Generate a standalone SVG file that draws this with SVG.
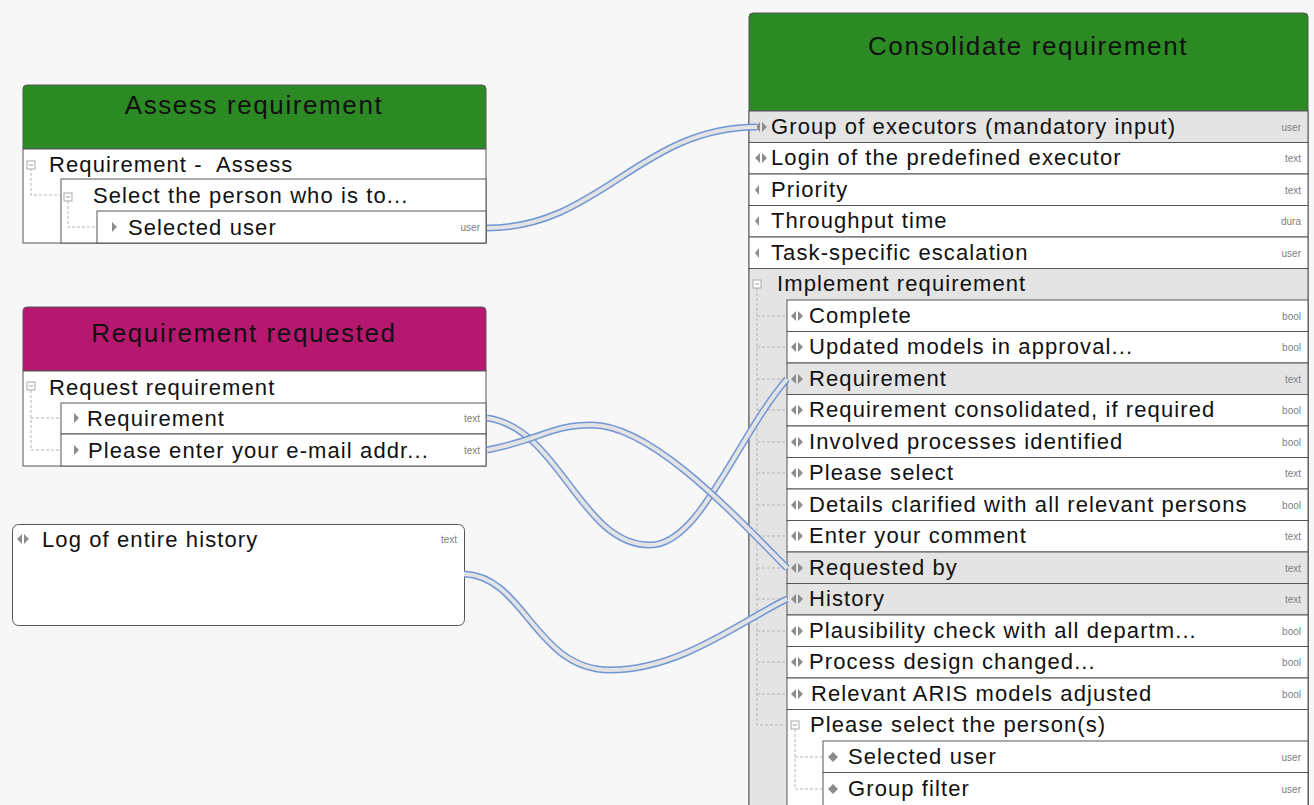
<svg xmlns="http://www.w3.org/2000/svg" xmlns:xlink="http://www.w3.org/1999/xlink" width="1314" height="805" viewBox="0 0 1314 805">
<style>
.bg{fill:#f7f7f7}
.row{fill:#ffffff;stroke:#555;stroke-width:1}
.hl{fill:#e4e4e4;stroke:#555;stroke-width:1}
.strip{fill:#e4e4e4;stroke:#555;stroke-width:1}
.t{font-family:"Liberation Sans",Arial,sans-serif;font-size:22px;letter-spacing:1.1px;fill:#111;white-space:pre}
.h{font-family:"Liberation Sans",Arial,sans-serif;font-size:26px;letter-spacing:1.6px;fill:#111;text-anchor:middle}
.ty{font-family:"Liberation Sans",Arial,sans-serif;font-size:10px;fill:#808080;text-anchor:end}
.tree{fill:none;stroke:#b5b5b5;stroke-width:1;stroke-dasharray:3 2}
.cb{fill:#fff;stroke:#aaa;stroke-width:1}
.cbm{stroke:#999;stroke-width:1}
.ic{fill:#8c8c8c}
.cw{fill:none;stroke:#7096d6;stroke-width:7}
.ci{fill:none;stroke:#e3e3e3;stroke-width:4}
</style>
<defs>
<g id="lr"><polygon points="0,0 5,-5 5,5"/><polygon points="7,-5 12,0 7,5"/></g>
<g id="l"><polygon points="0,0 4,-5 4,5"/></g>
<g id="r"><polygon points="0,-5 5,0 0,5"/></g>
<g id="dm"><polygon points="0,0 5,-5 10,0 5,5"/></g>
<g id="cb"><rect class="cb" x="-4" y="-4" width="8" height="8"/><line class="cbm" x1="-2" y1="0" x2="2" y2="0"/></g>
<path id="c1" d="M487,228 C600,228 640,127 757,127"/>
<path id="c2" d="M487,418 C560,428 580,545 650,545 C700,545 735,440 787,379"/>
<path id="c3" d="M487,450 C540,440 550,425 592,425 C650,425 730,510 787,568"/>
<path id="c4" d="M464,574 C525,576 535,670 610,670 C680,670 740,622 787,599"/>
</defs>
<rect class="bg" x="0" y="0" width="1314" height="805"/>

<g id="node-assess">
<path d="M23,149 V89 Q23,85 27,85 H482 Q486,85 486,89 V149 Z" fill="#2b8a24" stroke="#555"/>
<text class="h" x="254" y="114">Assess requirement</text>
<rect class="row" x="23" y="149" width="463" height="94"/>
<rect class="row" x="61" y="179" width="425" height="64"/>
<rect class="row" x="97" y="211" width="389" height="32"/>
<path class="tree" d="M31,168 V195 H61 M68,201 V227 H97"/>
<use href="#cb" x="31" y="165"/>
<use href="#cb" x="68" y="197"/>
<use href="#r" class="ic" x="112" y="227"/>
<text class="t" x="49" y="172">Requirement -  Assess</text>
<text class="t" x="93" y="203">Select the person who is to...</text>
<text class="t" x="128" y="235">Selected user</text>
<text class="ty" x="480" y="231">user</text>
</g>

<g id="node-requested">
<path d="M23,371 V311 Q23,307 27,307 H482 Q486,307 486,311 V371 Z" fill="#b5186e" stroke="#555"/>
<text class="h" x="244" y="342">Requirement requested</text>
<rect class="row" x="23" y="371" width="463" height="95"/>
<rect class="row" x="61" y="403" width="425" height="31"/>
<rect class="row" x="61" y="434" width="425" height="32"/>
<path class="tree" d="M31,390 V450 H61 M31,418 H61"/>
<use href="#cb" x="31" y="386"/>
<use href="#r" class="ic" x="74" y="418"/>
<use href="#r" class="ic" x="74" y="450"/>
<text class="t" x="49" y="395">Request requirement</text>
<text class="t" x="87" y="426">Requirement</text>
<text class="t" x="88" y="458">Please enter your e-mail addr...</text>
<text class="ty" x="480" y="422">text</text>
<text class="ty" x="480" y="454">text</text>
</g>

<g id="node-log">
<rect x="12.5" y="524.5" width="452" height="101" rx="6" fill="#fff" stroke="#555"/>
<use href="#lr" class="ic" x="17" y="539"/>
<text class="t" x="42" y="547">Log of entire history</text>
<text class="ty" x="457" y="543">text</text>
</g>

<g id="node-consolidate">
<rect class="row" x="749" y="111" width="559" height="700"/>
<path d="M749,111 V17 Q749,13 753,13 H1304 Q1308,13 1308,17 V111 Z" fill="#2b8a24" stroke="#555"/>
<text class="h" x="1028" y="55">Consolidate requirement</text>
<rect class="hl" x="749" y="111" width="559" height="31.5"/>
<rect class="row" x="749" y="142.5" width="559" height="31.5"/>
<rect class="row" x="749" y="174" width="559" height="31.5"/>
<rect class="row" x="749" y="205.5" width="559" height="31.5"/>
<rect class="row" x="749" y="237" width="559" height="31.5"/>
<rect class="strip" x="749" y="268.5" width="559" height="540"/>
<rect class="row" x="787" y="300" width="521" height="31.5"/>
<rect class="row" x="787" y="331.5" width="521" height="31.5"/>
<rect class="hl" x="787" y="363" width="521" height="31.5"/>
<rect class="row" x="787" y="394.5" width="521" height="31.5"/>
<rect class="row" x="787" y="426" width="521" height="31.5"/>
<rect class="row" x="787" y="457.5" width="521" height="31.5"/>
<rect class="row" x="787" y="489" width="521" height="31.5"/>
<rect class="row" x="787" y="520.5" width="521" height="31.5"/>
<rect class="hl" x="787" y="552" width="521" height="31.5"/>
<rect class="hl" x="787" y="583.5" width="521" height="31.5"/>
<rect class="row" x="787" y="615" width="521" height="31.5"/>
<rect class="row" x="787" y="646.5" width="521" height="31.5"/>
<rect class="row" x="787" y="678" width="521" height="31.5"/>
<rect class="row" x="787" y="709.5" width="521" height="100"/>
<rect class="row" x="823" y="741" width="485" height="31.5"/>
<rect class="row" x="823" y="772.5" width="485" height="40"/>
<path class="tree" d="M757,288 V725 H787 M757,316 H787 M757,347 H787 M757,379 H787 M757,410 H787 M757,442 H787 M757,473 H787 M757,505 H787 M757,536 H787 M757,568 H787 M757,599 H787 M757,631 H787 M757,662 H787 M757,694 H787 M795,729 V789 H823 M795,757 H823"/>
<use href="#cb" x="757" y="284"/>
<use href="#cb" x="795" y="725"/>
<use href="#lr" class="ic" x="755" y="127"/>
<use href="#lr" class="ic" x="755" y="158"/>
<use href="#l" class="ic" x="755" y="190"/>
<use href="#l" class="ic" x="755" y="221"/>
<use href="#l" class="ic" x="755" y="253"/>
<use href="#lr" class="ic" x="791" y="316"/>
<use href="#lr" class="ic" x="791" y="347"/>
<use href="#lr" class="ic" x="791" y="379"/>
<use href="#lr" class="ic" x="791" y="410"/>
<use href="#lr" class="ic" x="791" y="442"/>
<use href="#lr" class="ic" x="791" y="473"/>
<use href="#lr" class="ic" x="791" y="505"/>
<use href="#lr" class="ic" x="791" y="536"/>
<use href="#lr" class="ic" x="791" y="568"/>
<use href="#lr" class="ic" x="791" y="599"/>
<use href="#lr" class="ic" x="791" y="631"/>
<use href="#lr" class="ic" x="791" y="662"/>
<use href="#lr" class="ic" x="791" y="694"/>
<use href="#dm" class="ic" x="828" y="757"/>
<use href="#dm" class="ic" x="828" y="789"/>
<text class="t" x="771" y="134">Group of executors (mandatory input)</text>
<text class="t" x="771" y="165">Login of the predefined executor</text>
<text class="t" x="771" y="197">Priority</text>
<text class="t" x="771" y="228">Throughput time</text>
<text class="t" x="771" y="260">Task-specific escalation</text>
<text class="t" x="777" y="291">Implement requirement</text>
<text class="t" x="809" y="323">Complete</text>
<text class="t" x="809" y="354">Updated models in approval...</text>
<text class="t" x="809" y="386">Requirement</text>
<text class="t" x="809" y="417">Requirement consolidated, if required</text>
<text class="t" x="809" y="449">Involved processes identified</text>
<text class="t" x="809" y="480">Please select</text>
<text class="t" x="809" y="512">Details clarified with all relevant persons</text>
<text class="t" x="809" y="543">Enter your comment</text>
<text class="t" x="809" y="575">Requested by</text>
<text class="t" x="809" y="606">History</text>
<text class="t" x="809" y="638">Plausibility check with all departm...</text>
<text class="t" x="809" y="669">Process design changed...</text>
<text class="t" x="811" y="701">Relevant ARIS models adjusted</text>
<text class="t" x="810" y="732">Please select the person(s)</text>
<text class="t" x="848" y="764">Selected user</text>
<text class="t" x="848" y="796">Group filter</text>
<text class="ty" x="1301" y="131">user</text>
<text class="ty" x="1301" y="162">text</text>
<text class="ty" x="1301" y="194">text</text>
<text class="ty" x="1301" y="225">dura</text>
<text class="ty" x="1301" y="257">user</text>
<text class="ty" x="1301" y="320">bool</text>
<text class="ty" x="1301" y="351">bool</text>
<text class="ty" x="1301" y="383">text</text>
<text class="ty" x="1301" y="414">bool</text>
<text class="ty" x="1301" y="446">bool</text>
<text class="ty" x="1301" y="477">text</text>
<text class="ty" x="1301" y="509">bool</text>
<text class="ty" x="1301" y="540">text</text>
<text class="ty" x="1301" y="572">text</text>
<text class="ty" x="1301" y="603">text</text>
<text class="ty" x="1301" y="635">bool</text>
<text class="ty" x="1301" y="666">bool</text>
<text class="ty" x="1301" y="698">bool</text>
<text class="ty" x="1301" y="761">user</text>
<text class="ty" x="1301" y="793">user</text>
</g>

<g id="connectors">
<use href="#c1" class="cw"/><use href="#c1" class="ci"/>
<use href="#c2" class="cw"/><use href="#c2" class="ci"/>
<use href="#c3" class="cw"/><use href="#c3" class="ci"/>
<use href="#c4" class="cw"/><use href="#c4" class="ci"/>
</g>
</svg>
